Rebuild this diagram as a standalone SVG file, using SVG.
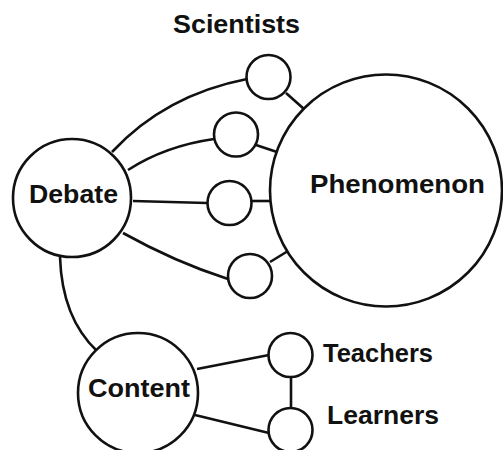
<svg xmlns="http://www.w3.org/2000/svg" width="503" height="450" viewBox="0 0 503 450">
  <style>
    .node { fill: #ffffff; stroke: #111111; stroke-width: 2.6; }
    .edge { fill: none; stroke: #111111; stroke-width: 2.6; }
    .label { font-family: "Liberation Sans", Arial, sans-serif; font-weight: bold; font-size: 26px; fill: #111111; }
  </style>
  <rect width="503" height="450" fill="#ffffff"/>
  <g id="connectors">
    <path class="edge" d="M112,152 Q165,95 247,79"/>
    <path class="edge" d="M128,170 Q165,146 214,139"/>
    <path class="edge" d="M133,201 L207,203"/>
    <path class="edge" d="M123,233 Q175,262 228,279"/>
    <path class="edge" d="M286,93 L304,109"/>
    <path class="edge" d="M256,145 L277,152"/>
    <path class="edge" d="M252,201 L272,201"/>
    <path class="edge" d="M270,262 L288,251"/>
    <path class="edge" d="M60,257 Q62,318 97,351"/>
    <path class="edge" d="M197,369 L269,355"/>
    <path class="edge" d="M195,415 L269,433"/>
    <path class="edge" d="M291,377 L291,408"/>
  </g>
  <g id="phenomenon">
    <circle class="node" cx="386" cy="190.5" r="116"/>
    <text class="label" x="310" y="193" textLength="175" lengthAdjust="spacingAndGlyphs">Phenomenon</text>
  </g>
  <g id="debate">
    <circle class="node" cx="72" cy="198" r="59"/>
    <text class="label" x="29" y="203" textLength="89" lengthAdjust="spacingAndGlyphs">Debate</text>
  </g>
  <g id="content">
    <circle class="node" cx="138" cy="393" r="60"/>
    <text class="label" x="88" y="397" textLength="102" lengthAdjust="spacingAndGlyphs">Content</text>
  </g>
  <g id="scientists">
    <text class="label" x="173" y="33" textLength="127" lengthAdjust="spacingAndGlyphs">Scientists</text>
  </g>
  <g id="scientist-1"><circle class="node" cx="268.5" cy="77" r="22"/></g>
  <g id="scientist-2"><circle class="node" cx="236" cy="134.5" r="22"/></g>
  <g id="scientist-3"><circle class="node" cx="229.5" cy="203" r="22"/></g>
  <g id="scientist-4"><circle class="node" cx="250" cy="276" r="22"/></g>
  <g id="teachers">
    <circle class="node" cx="290.5" cy="355" r="22"/>
    <text class="label" x="323" y="362" textLength="110" lengthAdjust="spacingAndGlyphs">Teachers</text>
  </g>
  <g id="learners">
    <circle class="node" cx="290.5" cy="430" r="22"/>
    <text class="label" x="327" y="424" textLength="112" lengthAdjust="spacingAndGlyphs">Learners</text>
  </g>
</svg>
